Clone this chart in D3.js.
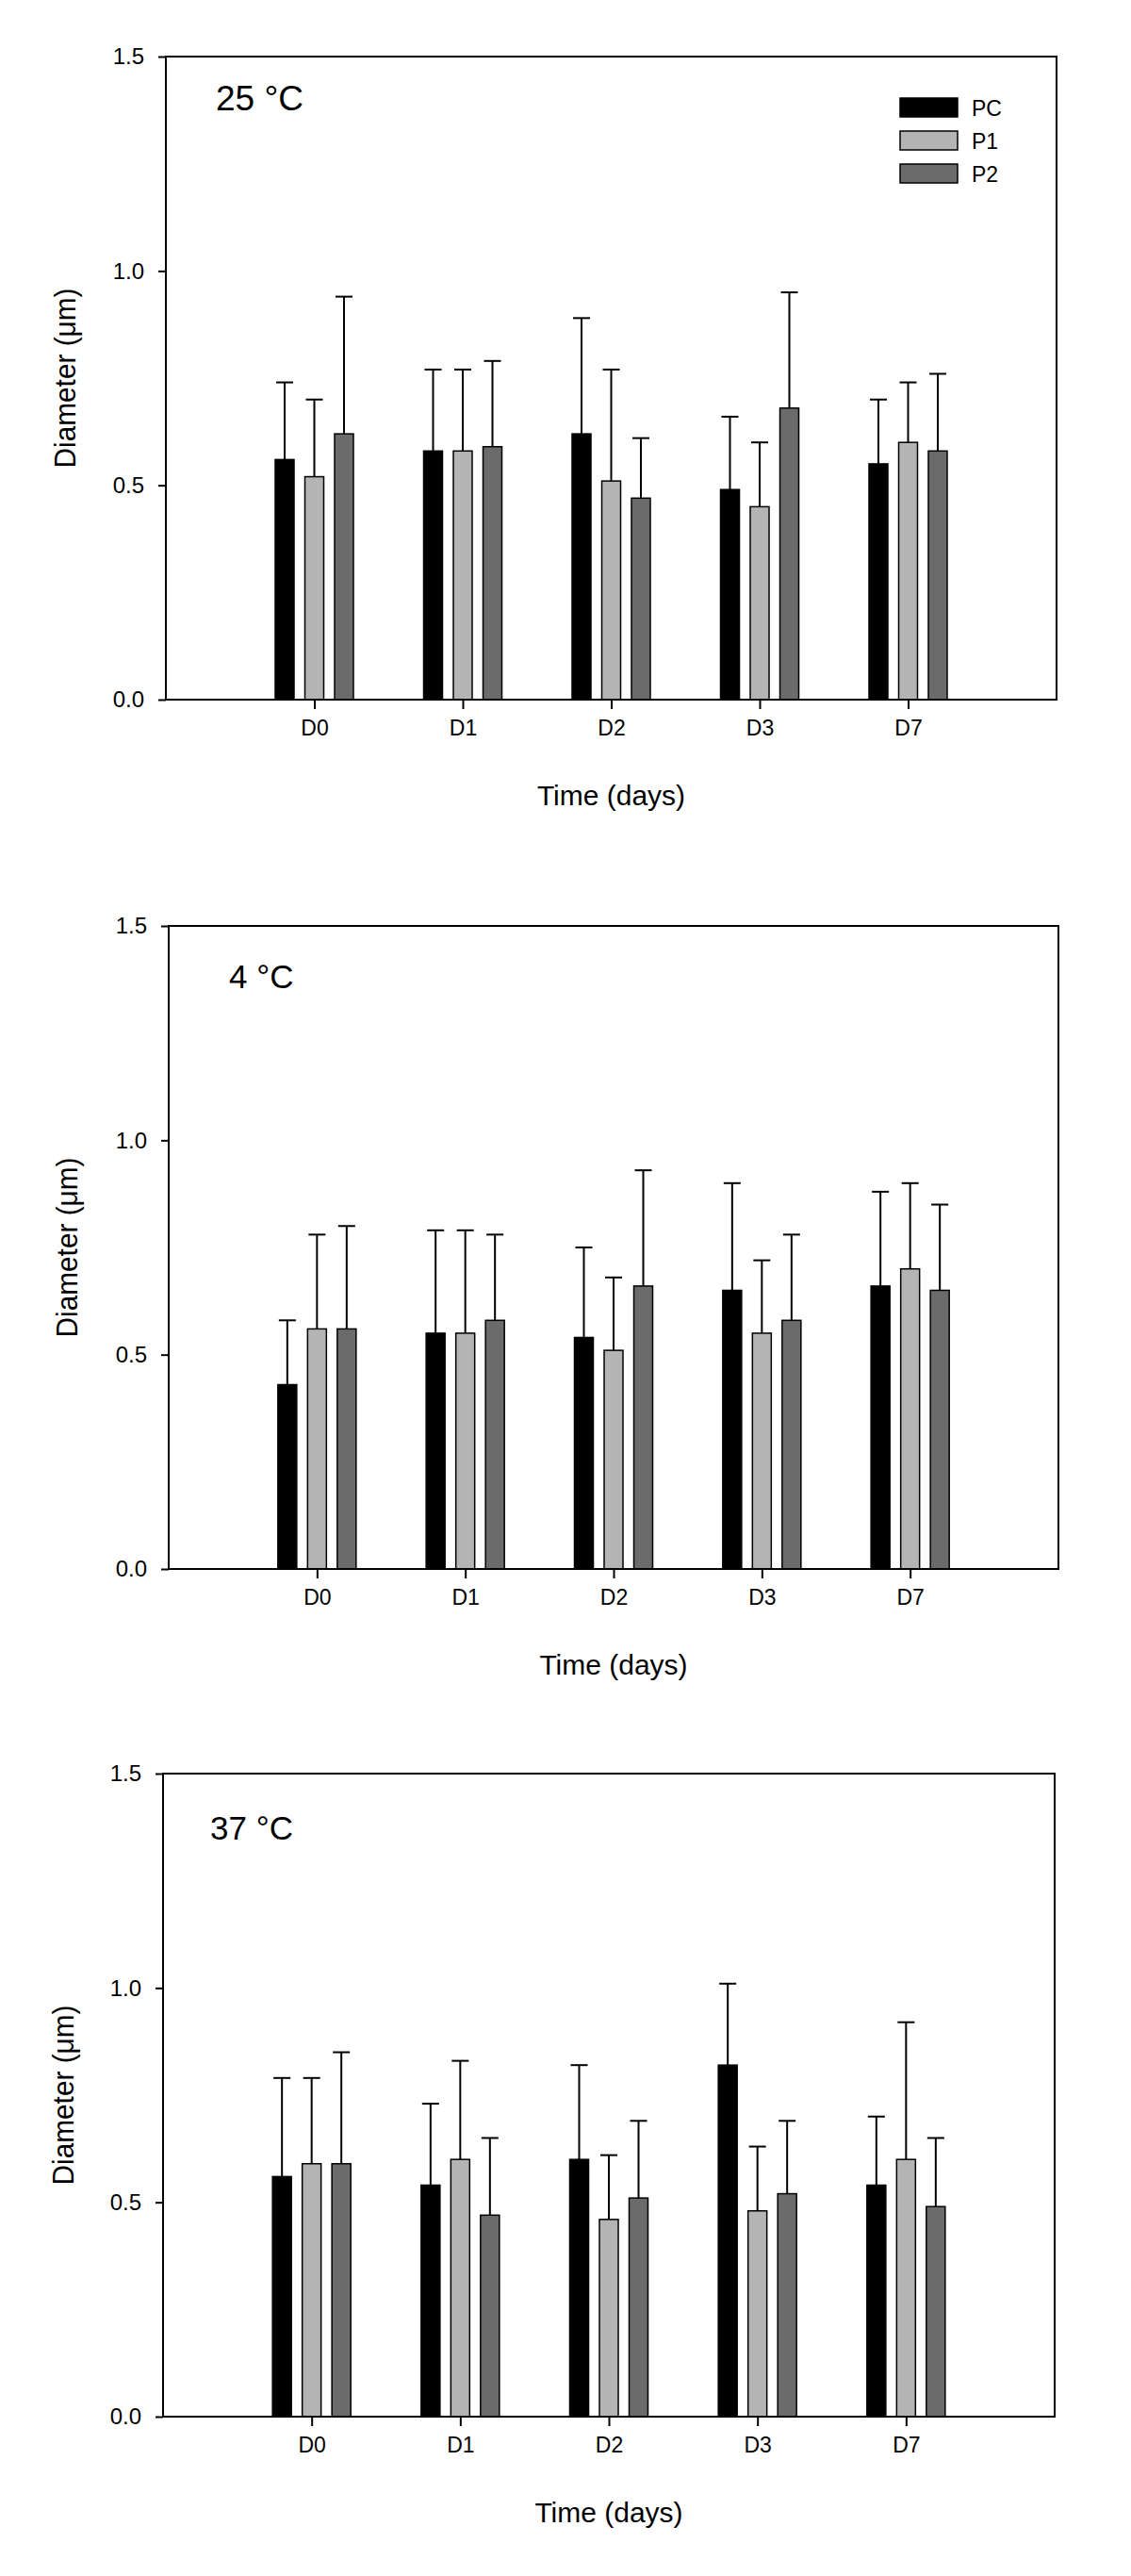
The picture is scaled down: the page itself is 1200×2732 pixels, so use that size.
<!DOCTYPE html>
<html>
<head>
<meta charset="utf-8">
<script src="https://cdn.jsdelivr.net/npm/d3@7"></script>
<style>
  html, body { margin: 0; padding: 0; background: #fff; }
  svg { display: block; }
  text { font-family: "Liberation Sans", Arial, sans-serif; fill: #000; }
</style>
</head>
<body>
<svg id="chart" width="1200" height="2732"></svg>
<script>
// ---- data ----
const days = ["D0", "D1", "D2", "D3", "D7"];
const series = ["PC", "P1", "P2"];
const yTicks = [0.0, 0.5, 1.0, 1.5];
const panelTitles = ["25 °C", "4 °C", "37 °C"];

// 25 °C
const mean25_PC = [0.56, 0.58, 0.62, 0.49, 0.55];
const mean25_P1 = [0.52, 0.58, 0.51, 0.45, 0.60];
const mean25_P2 = [0.62, 0.59, 0.47, 0.68, 0.58];
const sd25_PC = [0.18, 0.19, 0.27, 0.17, 0.15];
const sd25_P1 = [0.18, 0.19, 0.26, 0.15, 0.14];
const sd25_P2 = [0.32, 0.20, 0.14, 0.27, 0.18];

// 4 °C
const mean4_PC = [0.43, 0.55, 0.54, 0.65, 0.66];
const mean4_P1 = [0.56, 0.55, 0.51, 0.55, 0.70];
const mean4_P2 = [0.56, 0.58, 0.66, 0.58, 0.65];
const sd4_PC = [0.15, 0.24, 0.21, 0.25, 0.22];
const sd4_P1 = [0.22, 0.24, 0.17, 0.17, 0.20];
const sd4_P2 = [0.24, 0.20, 0.27, 0.20, 0.20];

// 37 °C
const mean37_PC = [0.56, 0.54, 0.60, 0.82, 0.54];
const mean37_P1 = [0.59, 0.60, 0.46, 0.48, 0.60];
const mean37_P2 = [0.59, 0.47, 0.51, 0.52, 0.49];
const sd37_PC = [0.23, 0.19, 0.22, 0.19, 0.16];
const sd37_P1 = [0.20, 0.23, 0.15, 0.15, 0.32];
const sd37_P2 = [0.26, 0.18, 0.18, 0.17, 0.16];

// ---- layout / style ----
const colors = { PC: "#000000", P1: "#b4b4b4", P2: "#6b6b6b" };
const panels = [
  { title: panelTitles[0], means: [mean25_PC, mean25_P1, mean25_P2], sds: [sd25_PC, sd25_P1, sd25_P2],
    left: 176, right: 1121, top: 60, bottom: 742, titleX: 229, titleY: 117, titleSize: 37, ylabX: 80, legend: true },
  { title: panelTitles[1], means: [mean4_PC, mean4_P1, mean4_P2], sds: [sd4_PC, sd4_P1, sd4_P2],
    left: 179, right: 1123, top: 982, bottom: 1664, titleX: 243, titleY: 1048, titleSize: 35, ylabX: 82, legend: false },
  { title: panelTitles[2], means: [mean37_PC, mean37_P1, mean37_P2], sds: [sd37_PC, sd37_P1, sd37_P2],
    left: 173, right: 1119, top: 1881, bottom: 2563, titleX: 223, titleY: 1951, titleSize: 35, ylabX: 78, legend: false }
];

const svg = d3.select("#chart");
const barW = 20;

panels.forEach(p => {
  const g = svg.append("g");
  const x = d3.scalePoint().domain(days).range([p.left, p.right]).padding(1);
  const xs = d3.scalePoint().domain(series).range([-31.5, 31.5]);
  const y = d3.scaleLinear().domain([0, 1.5]).range([p.bottom, p.top]);

  // y axis ticks
  const yAxis = d3.axisLeft(y).tickValues(yTicks).tickFormat(d3.format(".1f")).tickSize(8).tickSizeOuter(0).tickPadding(15);
  const ya = g.append("g").attr("transform", `translate(${p.left},0)`).call(yAxis);
  ya.select(".domain").remove();
  ya.selectAll("line").attr("stroke", "#000").attr("stroke-width", 2);
  ya.selectAll("text").style("font-size", "24px").style("font-family", "Liberation Sans, Arial, sans-serif");

  // x axis ticks
  const xAxis = d3.axisBottom(x).tickSize(10).tickSizeOuter(0).tickPadding(12);
  const xa = g.append("g").attr("transform", `translate(0,${p.bottom})`).call(xAxis);
  xa.select(".domain").remove();
  xa.selectAll("line").attr("stroke", "#000").attr("stroke-width", 2);
  xa.selectAll("text").style("font-size", "23px").style("font-family", "Liberation Sans, Arial, sans-serif");

  // bars
  series.forEach((s, si) => {
    const data = days.map((d, i) => ({ day: d, v: p.means[si][i], sd: p.sds[si][i] }));
    g.selectAll(null).data(data).enter().append("rect")
      .attr("x", d => x(d.day) + xs(s) - barW / 2)
      .attr("y", d => y(d.v))
      .attr("width", barW)
      .attr("height", d => y(0) - y(d.v))
      .attr("fill", colors[s])
      .attr("stroke", "#000")
      .attr("stroke-width", 1.5);
    // error bars (upper)
    g.selectAll(null).data(data).enter().append("line")
      .attr("x1", d => x(d.day) + xs(s)).attr("x2", d => x(d.day) + xs(s))
      .attr("y1", d => y(d.v)).attr("y2", d => y(d.v + d.sd))
      .attr("stroke", "#000").attr("stroke-width", 2);
    g.selectAll(null).data(data).enter().append("line")
      .attr("x1", d => x(d.day) + xs(s) - 9).attr("x2", d => x(d.day) + xs(s) + 9)
      .attr("y1", d => y(d.v + d.sd)).attr("y2", d => y(d.v + d.sd))
      .attr("stroke", "#000").attr("stroke-width", 2);
  });

  // frame
  g.append("rect")
    .attr("x", p.left).attr("y", p.top)
    .attr("width", p.right - p.left).attr("height", p.bottom - p.top)
    .attr("fill", "none").attr("stroke", "#000").attr("stroke-width", 2);

  // panel title
  g.append("text").attr("x", p.titleX).attr("y", p.titleY)
    .style("font-size", p.titleSize + "px").text(p.title);

  // y label
  const ymid = (p.top + p.bottom) / 2;
  g.append("text")
    .attr("transform", `translate(${p.ylabX},${ymid}) rotate(-90)`)
    .attr("text-anchor", "middle")
    .attr("textLength", 191).attr("lengthAdjust", "spacingAndGlyphs")
    .style("font-family", "'Liberation Sans Narrow', 'Liberation Sans', Arial, sans-serif")
    .style("font-size", "31px")
    .text("Diameter (μm)");

  // x label
  g.append("text")
    .attr("x", (p.left + p.right) / 2).attr("y", p.bottom + 112)
    .attr("text-anchor", "middle")
    .style("font-size", "30px")
    .text("Time (days)");

  // legend
  if (p.legend) {
    const lg = g.append("g");
    series.forEach((s, i) => {
      lg.append("rect").attr("x", 955).attr("y", 104 + i * 35)
        .attr("width", 61).attr("height", 20)
        .attr("fill", colors[s]).attr("stroke", "#000").attr("stroke-width", 1.5);
      lg.append("text").attr("x", 1031).attr("y", 104 + i * 35 + 19)
        .style("font-size", "23px").text(s);
    });
  }
});
</script>
</body>
</html>
